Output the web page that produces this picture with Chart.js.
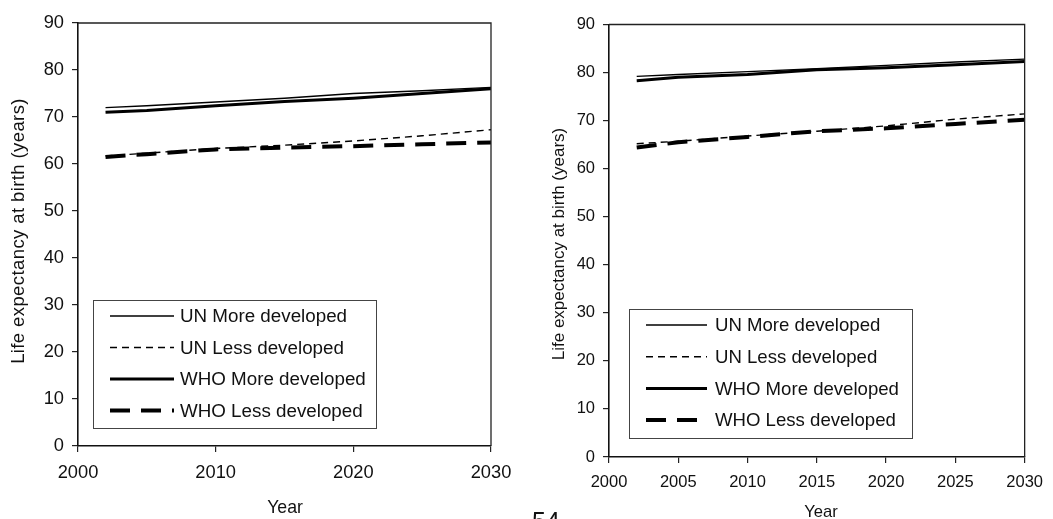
<!DOCTYPE html>
<html>
<head>
    <meta charset="UTF-8">
    <title>Life expectancy at birth</title>
    <script src="https://cdn.jsdelivr.net/npm/chart.js"></script>
    <style>
        body {
          margin: 0;
          padding: 0;
          width: 1053px;
          height: 519px;
          overflow: hidden;
          background-color: #fff;
          position: relative;
          font-family: "Liberation Sans", Arial, sans-serif;
        }
        canvas {
          position: absolute;
          top: 0;
        }
        #chartA { left: 0; }
        #chartB { left: 530px; }
        .page-no {
          position: absolute;
          left: 532px;
          top: 509px;
          font-size: 25px;
          line-height: 25px;
          color: #111;
        }
    </style>
</head>
<body>
<canvas id="chartA" width="530" height="519"></canvas>
<canvas id="chartB" width="523" height="519"></canvas>
<div class="page-no">54</div>

<script>
    // years with projections
    const years = [2002, 2005, 2010, 2015, 2020, 2025, 2030];
    const seriesLabels = ["UN More developed", "UN Less developed", "WHO More developed", "WHO Less developed"];
    const yTicks = [0, 10, 20, 30, 40, 50, 60, 70, 80, 90];

    // left panel
    const unMoreA  = [72.0, 72.4, 73.2, 74.0, 75.0, 75.6, 76.3];
    const unLessA  = [61.7, 62.3, 63.3, 64.0, 64.9, 66.0, 67.3];
    const whoMoreA = [71.0, 71.4, 72.4, 73.3, 74.0, 75.0, 76.0];
    const whoLessA = [61.5, 62.1, 63.1, 63.5, 63.8, 64.2, 64.6];

    // right panel
    const unMoreB  = [79.2, 79.6, 80.2, 80.8, 81.5, 82.2, 82.8];
    const unLessB  = [65.2, 65.7, 66.8, 67.8, 68.9, 70.3, 71.4];
    const whoMoreB = [78.3, 79.0, 79.6, 80.6, 81.0, 81.6, 82.3];
    const whoLessB = [64.4, 65.5, 66.6, 67.8, 68.4, 69.3, 70.2];

    const FONT = '"Liberation Sans", Arial, sans-serif';
    const INK = "#111";

    const lineStyles = [
      { borderWidth: 1.4, borderDash: [] },
      { borderWidth: 1.4, borderDash: [7, 5] },
      { borderWidth: 3, borderDash: [] },
      { borderWidth: 4, borderDash: [20, 11] }
    ];

    function toPoints(values) {
      return values.map((v, i) => ({ x: years[i], y: v }));
    }

    // top + right frame of the plot
    const frame = {
      id: "frame",
      afterDraw(chart) {
        const { ctx, chartArea: a } = chart;
        ctx.save();
        ctx.strokeStyle = "#222";
        ctx.lineWidth = 1.3;
        ctx.beginPath();
        ctx.moveTo(a.left, a.top);
        ctx.lineTo(a.right, a.top);
        ctx.lineTo(a.right, a.bottom);
        ctx.stroke();
        ctx.restore();
      }
    };

    // boxed legend inside the plot, bottom left
    const boxLegend = {
      id: "boxLegend",
      afterDatasetsDraw(chart, args, o) {
        const { ctx, chartArea: a } = chart;
        const x = a.left + o.dx, y = a.bottom - o.dy - o.h;
        ctx.save();
        ctx.fillStyle = "#fff";
        ctx.fillRect(x, y, o.w, o.h);
        ctx.strokeStyle = "#444";
        ctx.lineWidth = 1;
        ctx.strokeRect(x + 0.5, y + 0.5, o.w, o.h);
        chart.data.datasets.forEach((ds, i) => {
          const ry = y + o.first + i * o.gap;
          ctx.beginPath();
          ctx.setLineDash(ds.borderDash);
          ctx.lineWidth = ds.borderWidth;
          ctx.strokeStyle = ds.borderColor;
          ctx.moveTo(x + o.lineX0, ry);
          ctx.lineTo(x + o.lineX1, ry);
          ctx.stroke();
          ctx.setLineDash([]);
          ctx.fillStyle = INK;
          ctx.font = o.size + "px " + FONT;
          ctx.textBaseline = "middle";
          ctx.textAlign = "left";
          ctx.fillText(ds.label, x + o.textX, ry + 1);
        });
        ctx.restore();
      }
    };

    // axis titles, drawn by hand to get the spacing of the original
    const axisTitles = {
      id: "axisTitles",
      afterDraw(chart, args, o) {
        const ctx = chart.ctx;
        ctx.save();
        ctx.fillStyle = INK;
        ctx.textAlign = "center";
        ctx.textBaseline = "middle";
        ctx.font = o.xSize + "px " + FONT;
        ctx.fillText(o.xText, o.xPos[0], o.xPos[1]);
        ctx.translate(o.yPos[0], o.yPos[1]);
        ctx.rotate(-Math.PI / 2);
        ctx.font = o.ySize + "px " + FONT;
        ctx.letterSpacing = o.ySpacing;
        ctx.fillText(o.yText, 0, 0);
        ctx.restore();
      }
    };

    function makeChart(id, series, p) {
      const ctx = document.getElementById(id).getContext("2d");
      return new Chart(ctx, {
        type: "line",
        data: {
          datasets: series.map((vals, i) => ({
            label: seriesLabels[i],
            data: toPoints(vals),
            borderColor: "#000",
            borderWidth: lineStyles[i].borderWidth,
            borderDash: lineStyles[i].borderDash,
            pointRadius: 0,
            tension: 0,
            fill: false
          }))
        },
        options: {
          responsive: false,
          animation: false,
          events: [],
          layout: { padding: { top: p.top, right: p.right, left: 0, bottom: 0 } },
          plugins: {
            legend: { display: false },
            tooltip: { enabled: false },
            boxLegend: p.legend,
            axisTitles: p.titles
          },
          scales: {
            x: {
              type: "linear",
              min: 2000,
              max: 2030,
              afterFit: s => { s.height = p.xHeight; },
              afterBuildTicks: s => { s.ticks = p.xTicks.map(v => ({ value: v })); },
              grid: { display: true, drawOnChartArea: false, drawTicks: true, tickLength: 6, color: "#222", lineWidth: 1.2 },
              border: { display: true, color: "#111", width: 1.6 },
              ticks: {
                color: INK,
                font: { family: FONT, size: p.tickSize },
                padding: p.xPad,
                maxRotation: 0,
                autoSkip: false,
                callback: v => String(v)
              }
            },
            y: {
              min: 0,
              max: 90,
              afterFit: s => { s.width = p.yWidth; },
              afterBuildTicks: s => { s.ticks = yTicks.map(v => ({ value: v })); },
              grid: { display: true, drawOnChartArea: false, drawTicks: true, tickLength: 6, color: "#222", lineWidth: 1.2 },
              border: { display: true, color: "#111", width: 1.6 },
              ticks: {
                color: INK,
                font: { family: FONT, size: p.tickSize },
                padding: 8,
                callback: v => String(v)
              }
            }
          }
        },
        plugins: [frame, boxLegend, axisTitles]
      });
    }

    makeChart("chartA", [unMoreA, unLessA, whoMoreA, whoLessA], {
      top: 23, right: 39, xHeight: 73, yWidth: 78, xPad: 10, tickSize: 18.3,
      xTicks: [2000, 2010, 2020, 2030],
      legend: { dx: 15, dy: 18, w: 283, h: 128, first: 16, gap: 31.5, lineX0: 17, lineX1: 81, textX: 87, size: 18.8 },
      titles: { xText: "Year", xPos: [285, 508], xSize: 17.7, yText: "Life expectancy at birth (years)", yPos: [19, 231], ySize: 18.5, ySpacing: "0.4px" }
    });

    makeChart("chartB", [unMoreB, unLessB, whoMoreB, whoLessB], {
      top: 24.5, right: 19, xHeight: 62, yWidth: 79, xPad: 10, tickSize: 16.5,
      xTicks: [2000, 2005, 2010, 2015, 2020, 2025, 2030],
      legend: { dx: 20, dy: 19, w: 283, h: 129, first: 16, gap: 31.7, lineX0: 17, lineX1: 78, textX: 86, size: 18.6 },
      titles: { xText: "Year", xPos: [291, 512], xSize: 16.6, yText: "Life expectancy at birth (years)", yPos: [29.5, 244], ySize: 17, ySpacing: "0px" }
    });
</script>
</body>
</html>
